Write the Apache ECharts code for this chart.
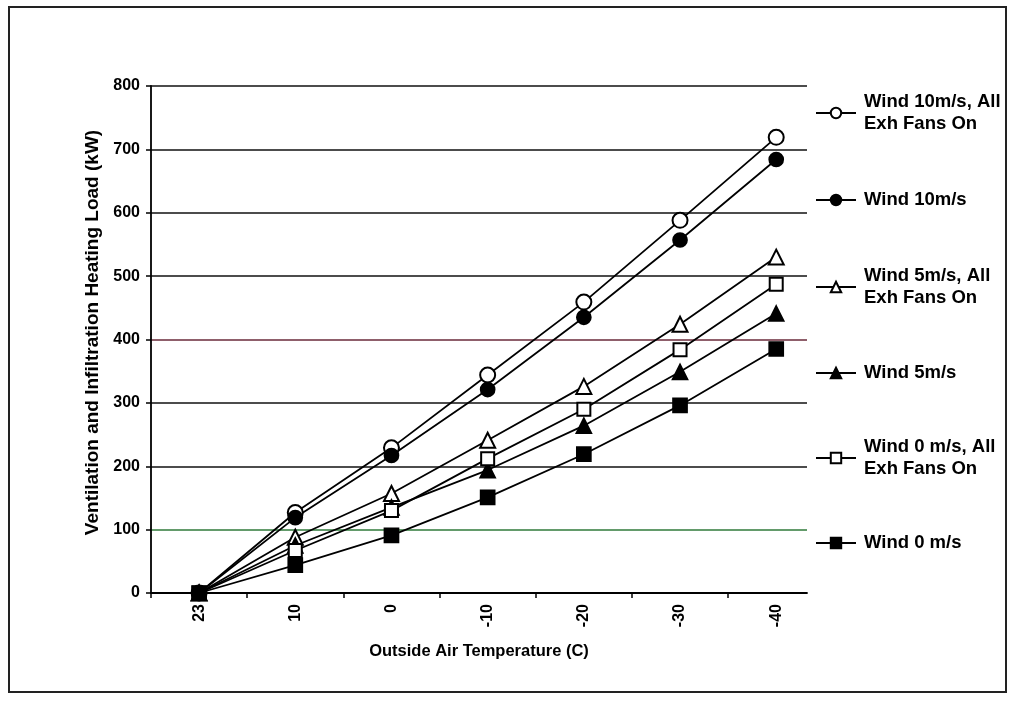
<!DOCTYPE html>
<html>
<head>
<meta charset="utf-8">
<script src="https://cdn.jsdelivr.net/npm/echarts@6/dist/echarts.min.js"></script>
<style>html,body{margin:0;padding:0;background:#fff}#c{width:1011px;height:701px}</style>
</head>
<body>
<div id="c"></div>
<script>
// Category labels (outside air temperature, C)
var categories = ['23', '10', '0', '-10', '-20', '-30', '-40'];
// Series values (kW)
var wind10Fans = [0, 127, 229, 344, 459, 588, 719];
var wind10     = [0, 119, 217, 321, 435, 557, 684];
var wind5Fans  = [0, 88, 157, 241, 326, 424, 530];
var wind5      = [0, 75, 135, 194, 264, 349, 441];
var wind0Fans  = [0, 67, 130, 212, 290, 384, 487];
var wind0      = [0, 44, 91, 151, 219, 296, 385];
var yTicks = [0, 100, 200, 300, 400, 500, 600, 700, 800];

var seriesNames = [
  'Wind 10m/s, All\nExh Fans On',
  'Wind 10m/s',
  'Wind 5m/s, All\nExh Fans On',
  'Wind 5m/s',
  'Wind 0 m/s, All\nExh Fans On',
  'Wind 0 m/s'
];
var seriesValues = [wind10Fans, wind10, wind5Fans, wind5, wind0Fans, wind0];
var symbols = ['emptyCircle', 'circle', 'emptyTriangle', 'triangle', 'emptyRect', 'rect'];
var symbolSizes = [15, 14, 15, 15, 13, 14];

function toPoints(arr) {
  return arr.map(function (v, i) { return [i, v]; });
}

var series = seriesValues.map(function (vals, k) {
  return {
    name: seriesNames[k],
    type: 'line',
    data: toPoints(vals),
    symbol: symbols[k],
    symbolSize: symbolSizes[k],
    showAllSymbol: true,
    color: '#000',
    lineStyle: { color: '#000', width: 1.8 },
    itemStyle: { color: '#000', borderColor: '#000', borderWidth: 1.7 },
    emphasis: { disabled: true },
    animation: false
  };
});

var legendTops = [113, 200, 287, 373, 458, 543];
var legends = seriesNames.map(function (n, k) {
  var twoLine = n.indexOf('\n') >= 0;
  return {
    data: [n],
    orient: 'vertical',
    left: 815,
    top: legendTops[k] - (twoLine ? 33 : 11),
    padding: 0,
    itemWidth: 40,
    itemHeight: 13,
    itemGap: 0,
    selectedMode: false,
    textStyle: {
      fontFamily: 'Liberation Sans, Arial, sans-serif',
      fontWeight: 'bold',
      fontSize: 18.5,
      color: '#000',
      lineHeight: 22,
      padding: twoLine ? [22, 0, 0, 3] : [0, 0, 0, 3]
    }
  };
});

var xTickPos = categories.map(function (c, i) { return i - 0.5; });
var xLabelPos = categories.map(function (c, i) { return i; });

var option = {
  backgroundColor: '#fff',
  animation: false,
  graphic: [{
    type: 'rect',
    shape: { x: 9, y: 7, width: 997, height: 685 },
    style: { fill: 'none', stroke: '#222', lineWidth: 2 },
    silent: true
  }],
  legend: legends,
  grid: { left: 151, right: 204, top: 86, bottom: 108, containLabel: false },
  xAxis: {
    type: 'value',
    min: -0.5,
    max: 6.32,
    name: 'Outside Air Temperature (C)',
    nameLocation: 'middle',
    nameGap: 50,
    nameTextStyle: { fontFamily: 'Liberation Sans, Arial, sans-serif', fontWeight: 'bold', fontSize: 16.5, color: '#000' },
    axisLine: { show: true, onZero: false, lineStyle: { color: '#000', width: 1.8 } },
    axisTick: { show: true, inside: false, length: 5, customValues: xTickPos, lineStyle: { color: '#000', width: 1.5 } },
    axisLabel: {
      customValues: xLabelPos,
      rotate: 90,
      margin: 11,
      fontFamily: 'Liberation Sans, Arial, sans-serif',
      fontWeight: 'bold',
      fontSize: 16,
      color: '#000',
      formatter: function (v) { return categories[Math.round(v)]; }
    },
    splitLine: { show: false }
  },
  yAxis: {
    type: 'value',
    min: yTicks[0],
    max: yTicks[yTicks.length - 1],
    interval: 100,
    name: 'Ventilation and Infiltration Heating Load (kW)',
    nameLocation: 'middle',
    nameRotate: 90,
    nameGap: 49,
    nameTextStyle: { fontFamily: 'Liberation Sans, Arial, sans-serif', fontWeight: 'bold', fontSize: 19, color: '#000', padding: [0, 0, 0, 14] },
    axisLine: { show: true, onZero: false, lineStyle: { color: '#000', width: 1.8 } },
    axisTick: { show: true, inside: false, length: 5, lineStyle: { color: '#000', width: 1.5 } },
    axisLabel: {
      margin: 11,
      fontFamily: 'Liberation Sans, Arial, sans-serif',
      fontWeight: 'bold',
      fontSize: 16,
      color: '#000'
    },
    splitLine: {
      show: true,
      lineStyle: {
        color: ['#000', '#2f7a3a', '#111', '#111', '#6a2a3a', '#111', '#111', '#111', '#111'],
        width: 1.7
      }
    }
  },
  series: series
};

var chart = echarts.init(document.getElementById('c'), null, { renderer: 'canvas' });
chart.setOption(option);
</script>
</body>
</html>
